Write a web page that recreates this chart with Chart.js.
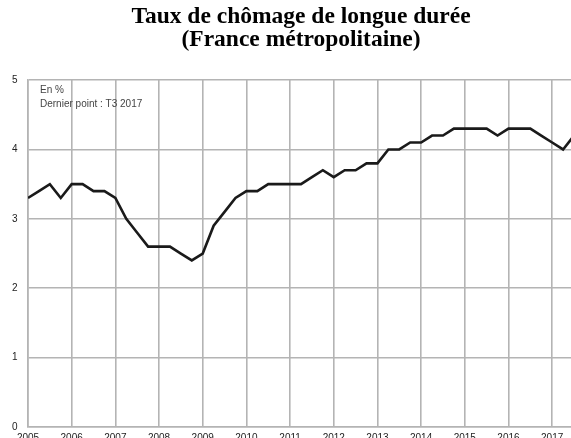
<!DOCTYPE html>
<html>
<head>
<meta charset="utf-8">
<script src="https://cdn.jsdelivr.net/npm/chart.js@4"></script>
<style>
  html, body { margin: 0; padding: 0; background: #fff; overflow: hidden; }
  canvas { display: block; }
</style>
</head>
<body>
<canvas id="myChart" width="574" height="438"></canvas>
<script>
/* Taux de chomage de longue duree, trimestriel */
var quarters = [
  "2005-T1","2005-T2","2005-T3","2005-T4",
  "2006-T1","2006-T2","2006-T3","2006-T4",
  "2007-T1","2007-T2","2007-T3","2007-T4",
  "2008-T1","2008-T2","2008-T3","2008-T4",
  "2009-T1","2009-T2","2009-T3","2009-T4",
  "2010-T1","2010-T2","2010-T3","2010-T4",
  "2011-T1","2011-T2","2011-T3","2011-T4",
  "2012-T1","2012-T2","2012-T3","2012-T4",
  "2013-T1","2013-T2","2013-T3","2013-T4",
  "2014-T1","2014-T2","2014-T3","2014-T4",
  "2015-T1","2015-T2","2015-T3","2015-T4",
  "2016-T1","2016-T2","2016-T3","2016-T4",
  "2017-T1","2017-T2","2017-T3"
];
var taux = [
  3.3,3.4,3.5,3.3,
  3.5,3.5,3.4,3.4,
  3.3,3.0,2.8,2.6,
  2.6,2.6,2.5,2.4,
  2.5,2.9,3.1,3.3,
  3.4,3.4,3.5,3.5,
  3.5,3.5,3.6,3.7,
  3.6,3.7,3.7,3.8,
  3.8,4.0,4.0,4.1,
  4.1,4.2,4.2,4.3,
  4.3,4.3,4.3,4.2,
  4.3,4.3,4.3,4.2,
  4.1,4.0,4.2
];
var yTicks = [0,1,2,3,4,5];
var noteLines = ["En %", "Dernier point : T3 2017"];

// quarter label -> position on a year axis
function toX(q) {
  var p = q.split("-T");
  return parseInt(p[0]) + (parseInt(p[1]) - 1) / 4;
}
var points = quarters.map(function (q, i) { return { x: toX(q), y: taux[i] }; });

var gridGrey = "#b4b4b4";

var notePlugin = {
  id: "note",
  afterDraw: function (chart) {
    var c = chart.ctx, a = chart.chartArea;
    c.save();
    c.font = "10px 'Liberation Sans', Arial, sans-serif";
    c.fillStyle = "#444";
    c.textBaseline = "alphabetic";
    noteLines.forEach(function (t, i) {
      c.fillText(t, a.left + 12, a.top + 13 + i * 14);
    });
    c.restore();
  }
};

var ctx1 = document.getElementById("myChart").getContext("2d");
window.myLine = new Chart(ctx1, {
  type: "line",
  data: {
    datasets: [{
      label: "Taux de chômage de longue durée",
      data: points,
      borderColor: "#1a1a1a",
      borderWidth: 2.6,
      pointRadius: 0,
      tension: 0,
      fill: false
    }]
  },
  plugins: [notePlugin],
  options: {
    animation: false,
    responsive: false,
    devicePixelRatio: 1,
    layout: { padding: { left: 12, right: 0, top: 5, bottom: 0 } },
    plugins: {
      legend: { display: false },
      tooltip: { enabled: false },
      title: {
        display: true,
        fullSize: false,
        text: ["Taux de chômage de longue durée", "(France métropolitaine)"],
        color: "#000",
        font: { family: "'Liberation Serif', 'Times New Roman', serif", size: 23.5, weight: "bold", lineHeight: 0.98 },
        padding: { top: 0, bottom: 29 }
      }
    },
    scales: {
      x: {
        type: "linear",
        min: 2005,
        max: 2017.5,
        afterFit: function (s) { s.height = 11; },
        grid: { color: gridGrey, lineWidth: 1.6, drawTicks: false },
        border: { color: gridGrey, width: 1.6 },
        ticks: {
          stepSize: 1,
          includeBounds: false,
          autoSkip: false,
          maxRotation: 0,
          padding: 5,
          color: "#222",
          font: { family: "'Liberation Sans', Arial, sans-serif", size: 10 },
          callback: function (v) { return String(v); }
        }
      },
      y: {
        min: 0,
        max: 5,
        afterFit: function (s) { s.width = 16; },
        afterBuildTicks: function (s) { s.ticks = yTicks.map(function (v) { return { value: v }; }); },
        grid: { color: gridGrey, lineWidth: 1.6, drawTicks: false },
        border: { color: gridGrey, width: 1.6 },
        ticks: {
          padding: 0,
          crossAlign: "far",
          color: "#222",
          font: { family: "'Liberation Sans', Arial, sans-serif", size: 10 }
        }
      }
    }
  }
});
</script>
</body>
</html>
